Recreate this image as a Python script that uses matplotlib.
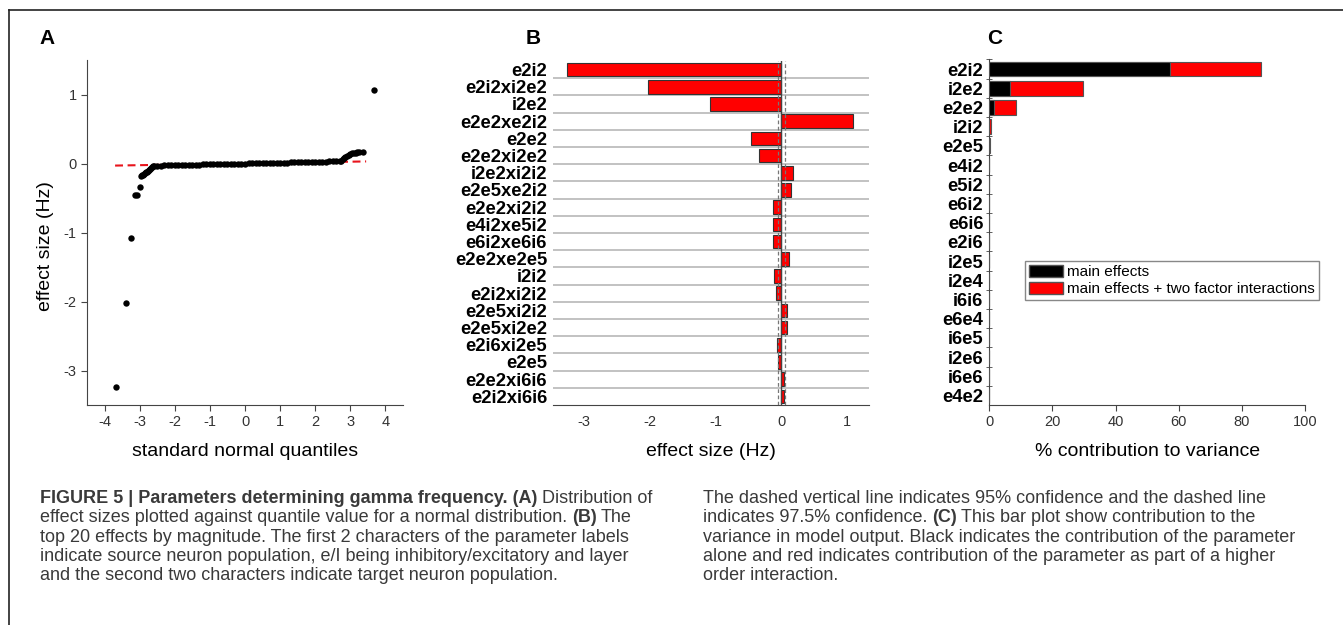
import matplotlib.pyplot as plt
from matplotlib.lines import Line2D
from matplotlib.patches import Patch

plt.rcParams['font.family'] = ['Liberation Sans', 'DejaVu Sans']
plt.rcParams['axes.unicode_minus'] = False

# Panel A: effect sizes vs standard normal quantiles
qq_x = [-3.68, -3.39, -3.24, -3.13, -3.08, -3.00,
        -2.97, -2.94, -2.91, -2.88, -2.85, -2.82, -2.79, -2.76, -2.73, -2.70,
        -2.67, -2.64, -2.61, -2.58,
        -2.5, -2.4, -2.3, -2.2, -2.1, -2.0, -1.9, -1.8, -1.7, -1.6, -1.5, -1.4,
        -1.3, -1.2, -1.1, -1.0, -0.9, -0.8, -0.7, -0.6, -0.5, -0.4, -0.3, -0.2,
        -0.1, 0.0, 0.1, 0.2, 0.3, 0.4, 0.5, 0.6, 0.7, 0.8, 0.9, 1.0, 1.1, 1.2,
        1.3, 1.4, 1.5, 1.6, 1.7, 1.8, 1.9, 2.0, 2.1, 2.2, 2.3, 2.4, 2.5, 2.6, 2.7,
        2.74, 2.78, 2.82, 2.86, 2.90, 2.95, 3.00, 3.05, 3.10, 3.15, 3.20, 3.26,
        3.36, 3.66]
qq_y = [-3.24, -2.02, -1.08, -0.46, -0.46, -0.34,
        -0.18, -0.17, -0.16, -0.15, -0.14, -0.13, -0.12, -0.11, -0.10, -0.08,
        -0.06, -0.05, -0.04, -0.035,
        -0.030, -0.029, -0.028, -0.027, -0.026, -0.024, -0.023, -0.022, -0.021,
        -0.019, -0.018, -0.017, -0.015, -0.014, -0.013, -0.012, -0.010, -0.009,
        -0.008, -0.007, -0.006, -0.005, -0.003, -0.002, -0.001, 0.000, 0.001,
        0.002, 0.004, 0.005, 0.006, 0.007, 0.008, 0.009, 0.011, 0.012, 0.013,
        0.014, 0.015, 0.017, 0.018, 0.019, 0.020, 0.021, 0.023, 0.024, 0.025,
        0.026, 0.027, 0.029, 0.030, 0.031, 0.032,
        0.04, 0.06, 0.08, 0.10, 0.115, 0.13, 0.14, 0.145, 0.15, 0.155, 0.16,
        0.165, 0.17, 1.07]
ref_x = [-3.70, 3.45]
ref_y = [-0.03, 0.03]

# Panel B: top 20 effects
effects = ['e2i2', 'e2i2xi2e2', 'i2e2', 'e2e2xe2i2', 'e2e2', 'e2e2xi2e2',
           'i2e2xi2i2', 'e2e5xe2i2', 'e2e2xi2i2', 'e4i2xe5i2', 'e6i2xe6i6',
           'e2e2xe2e5', 'i2i2', 'e2i2xi2i2', 'e2e5xi2i2', 'e2e5xi2e2',
           'e2i6xi2e5', 'e2e5', 'e2e2xi6i6', 'e2i2xi6i6']
effect_size = [-3.25, -2.02, -1.08, 1.08, -0.46, -0.335, 0.175, 0.15, -0.135,
               -0.125, -0.125, 0.12, -0.11, -0.09, 0.09, 0.088, -0.06, -0.055,
               0.045, 0.04]
conf_lines = [-0.045, 0.05]

# Panel C: % contribution to variance
params = ['e2i2', 'i2e2', 'e2e2', 'i2i2', 'e2e5', 'e4i2', 'e5i2', 'e6i2', 'e6i6',
          'e2i6', 'i2e5', 'i2e4', 'i6i6', 'e6e4', 'i6e5', 'i2e6', 'i6e6', 'e4e2']
main_eff = [57.2, 6.6, 1.4, 0.05, 0.05, 0, 0, 0, 0, 0, 0, 0, 0, 0, 0, 0, 0, 0]
with_inter = [86.0, 29.6, 8.3, 0.6, 0.35, 0.05, 0, 0, 0, 0, 0, 0, 0, 0, 0, 0, 0, 0]

W, H = 1343, 625
fig = plt.figure(figsize=(W / 100, H / 100), dpi=100)

tick_col = '#333333'
spine_col = '#444444'
lab_size = 14
tick_size = 10.5
name_size = 13.3


def px_axes(x0, y0, x1, y1):
    return fig.add_axes([x0 / W, 1 - y1 / H, (x1 - x0) / W, (y1 - y0) / H])


# ---- A
axA = px_axes(87, 60, 403, 405)
axA.plot(ref_x, ref_y, color='#e8141c', lw=1.5, ls=(0, (3.8, 2.2)), zorder=1)
axA.plot(qq_x, qq_y, 'o', color='black', ms=4.6, mew=0, zorder=2)
axA.set_xlim(-4.5, 4.5)
axA.set_ylim(-3.5, 1.5)
axA.set_xticks(range(-4, 5))
axA.set_yticks([-3, -2, -1, 0, 1])
axA.set_xlabel('standard normal quantiles', fontsize=lab_size, labelpad=10)
axA.set_ylabel('effect size (Hz)', fontsize=lab_size)
axA.yaxis.set_label_coords(-0.105, 0.46)
for s in ['top', 'right']:
    axA.spines[s].set_visible(False)
for s in ['left', 'bottom']:
    axA.spines[s].set_color(spine_col)
axA.tick_params(labelsize=tick_size, labelcolor=tick_col, color=spine_col, length=4)

# ---- B
axB = px_axes(553, 61, 869, 405)
rows = range(len(effects))
for i in rows[:-1]:
    axB.axhline(i + 0.5, color='#b8b8b8', lw=1.2, zorder=0)
axB.barh(rows, effect_size, height=0.8, color='#ff0000', edgecolor='#333333',
         lw=0.8, zorder=2)
axB.axvline(0, color='#444444', lw=1.0, zorder=3)
for c in conf_lines:
    axB.axvline(c, color='#777777', lw=0.9, ls=(0, (3, 2)), zorder=3)
axB.set_xlim(-3.47, 1.33)
axB.set_ylim(len(effects) - 0.5, -0.5)
axB.set_yticks(rows, effects, fontweight='bold', fontsize=name_size)
axB.set_xticks([-3, -2, -1, 0, 1])
axB.set_xlabel('effect size (Hz)', fontsize=lab_size, labelpad=10)
for s in ['top', 'right', 'left']:
    axB.spines[s].set_visible(False)
axB.spines['bottom'].set_color(spine_col)
axB.tick_params(axis='y', length=0, pad=4.3)
axB.tick_params(axis='x', labelsize=tick_size, labelcolor=tick_col, length=0, pad=7)

# ---- C
axC = px_axes(989.3, 59.4, 1305, 405)
prow = range(len(params))
axC.barh(prow, with_inter, height=0.78, color='#ff0000', edgecolor='#555555',
         lw=0.8, zorder=2)
axC.barh(prow, main_eff, height=0.78, color='black', edgecolor='#555555',
         lw=0.8, zorder=3)
axC.set_xlim(0, 100)
axC.set_ylim(len(params) - 0.5, -0.5)
axC.set_yticks(prow, params, fontweight='bold', fontsize=name_size)
axC.set_yticks([i - 0.5 for i in prow], minor=True)
axC.set_xticks([0, 20, 40, 60, 80, 100])
axC.set_xlabel('% contribution to variance', fontsize=lab_size, labelpad=10)
for s in ['top', 'right']:
    axC.spines[s].set_visible(False)
for s in ['left', 'bottom']:
    axC.spines[s].set_color(spine_col)
axC.tick_params(axis='y', which='major', length=0, pad=4.3)
axC.tick_params(axis='y', which='minor', direction='inout', length=5, color=spine_col)
axC.tick_params(axis='x', labelsize=tick_size, labelcolor=tick_col, color=spine_col, length=4)
handles = [Patch(facecolor='black', edgecolor='#555555', label='main effects'),
           Patch(facecolor='#ff0000', edgecolor='#555555',
                 label='main effects + two factor interactions')]
leg = axC.legend(handles=handles, loc='upper right', bbox_to_anchor=(1.044, 0.4175),
                 fontsize=11, fancybox=False, framealpha=1, edgecolor='#888888',
                 handlelength=2.2, handleheight=0.85, handletextpad=0.3,
                 labelspacing=0.2, borderpad=0.25, borderaxespad=0)
leg.get_frame().set_linewidth(1.0)

# panel letters
for lx, letter in [(47, 'A'), (533, 'B'), (995, 'C')]:
    fig.text(lx / W, 1 - 38 / H, letter, fontsize=15, fontweight='bold',
             ha='center', va='center')

# frame
fig.add_artist(Line2D([9 / W, 1], [1 - 10 / H, 1 - 10 / H], color='#222222', lw=1.2))
fig.add_artist(Line2D([9 / W, 9 / W], [0, 1 - 10 / H], color='#222222', lw=1.2))

# caption
cap = fig.add_axes([0, 0, 1, 1])
cap.axis('off')
cap.set_xlim(0, W)
cap.set_ylim(H, 0)
cap_font = ['Liberation Sans Narrow', 'Liberation Sans']
cap_size = 13.0
cap_col = '#3a3a3a'

left_lines = [
    [('FIGURE 5 | Parameters determining gamma frequency. (A)', True), ('Distribution of', False)],
    [('effect sizes plotted against quantile value for a normal distribution.', False), ('(B)', True), ('The', False)],
    [('top 20 effects by magnitude. The first 2 characters of the parameter labels', False)],
    [('indicate source neuron population, e/I being inhibitory/excitatory and layer', False)],
    [('and the second two characters indicate target neuron population.', False)],
]
right_lines = [
    [('The dashed vertical line indicates 95% confidence and the dashed line', False)],
    [('indicates 97.5% confidence.', False), ('(C)', True), ('This bar plot show contribution to the', False)],
    [('variance in model output. Black indicates the contribution of the parameter', False)],
    [('alone and red indicates contribution of the parameter as part of a higher', False)],
    [('order interaction.', False)],
]


def caption_column(x, y0, lines):
    for k, parts in enumerate(lines):
        prev = None
        for txt, bold in parts:
            kw = dict(fontsize=cap_size, color=cap_col, family=cap_font,
                      fontweight='bold' if bold else 'normal')
            if prev is None:
                prev = cap.text(x, y0 + k * 19.3, txt, ha='left', va='baseline', **kw)
            else:
                prev = cap.annotate(txt, xy=(1, 0), xycoords=prev, xytext=(0.25 * cap_size, 0),
                                    textcoords='offset points', ha='left', va='bottom', **kw)


caption_column(40, 503, left_lines)
caption_column(703, 503, right_lines)

fig.savefig('out.png', dpi=100)
